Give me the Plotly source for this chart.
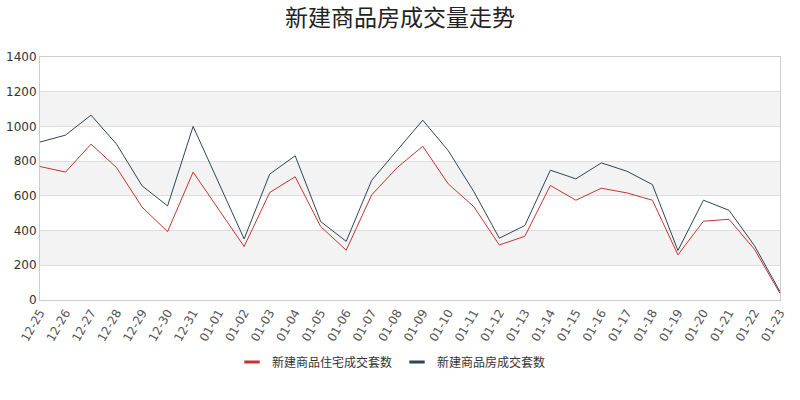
import plotly.graph_objects as go

dates = ["12-25","12-26","12-27","12-28","12-29","12-30","12-31",
         "01-01","01-02","01-03","01-04","01-05","01-06","01-07","01-08",
         "01-09","01-10","01-11","01-12","01-13","01-14","01-15","01-16",
         "01-17","01-18","01-19","01-20","01-21","01-22","01-23"]
residential = [769, 737, 898, 763, 535, 394, 737, 525, 308, 619, 710, 423, 287, 606, 763,
               886, 669, 538, 317, 367, 660, 575, 644, 617, 575, 260, 454, 465, 292, 38]
all_housing = [910, 950, 1065, 898, 658, 542, 1000, 680, 352, 725, 831, 452, 338, 690, 862,
               1036, 860, 625, 356, 429, 748, 698, 790, 742, 665, 285, 575, 517, 313, 48]
y_ticks = [0, 200, 400, 600, 800, 1000, 1200, 1400]
series_names = ["新建商品住宅成交套数", "新建商品房成交套数"]
colors = ["#c23531", "#2f4554"]
title = "新建商品房成交量走势"

fig = go.Figure()
for name, vals, c in zip(series_names, [residential, all_housing], colors):
    fig.add_trace(go.Scatter(x=dates, y=vals, mode="lines", name=name,
                             line=dict(color=c, width=1), showlegend=False))
# legend entries with short thick dash symbols
for name, c in zip(series_names, colors):
    fig.add_trace(go.Scatter(x=[None], y=[None], mode="markers", name=name,
                             marker=dict(symbol="line-ew-open", size=11, color=c,
                                         line=dict(color=c, width=3))))

# alternating background bands
shapes = []
for i in range(len(y_ticks) - 1):
    if i % 2 == 1:
        shapes.append(dict(type="rect", xref="paper", yref="y", x0=0, x1=1,
                           y0=y_ticks[i], y1=y_ticks[i + 1],
                           fillcolor="#f3f3f3", line=dict(width=0), layer="below"))

fig.update_layout(
    width=800, height=400,
    margin=dict(l=40, r=20, t=57, b=100, autoexpand=False),
    paper_bgcolor="white", plot_bgcolor="white",
    font=dict(family="Noto Sans CJK SC, DejaVu Sans, sans-serif", color="#333"),
    title=dict(text=title, x=0.5, xanchor="center", y=0.955, yanchor="middle",
               font=dict(size=23, color="#222")),
    shapes=shapes,
    showlegend=True,
    legend=dict(orientation="h", x=0.475, xanchor="center", y=-0.255, yanchor="middle",
                font=dict(size=12, color="#333"), itemwidth=30,
                tracegroupgap=0),
    xaxis=dict(type="category", range=[0, len(dates) - 1], tickangle=-60,
               showgrid=False, showline=True, linecolor="#ccc", mirror=True,
               automargin=False, ticks="",
               tickfont=dict(size=12, color="#555", family="DejaVu Sans, sans-serif")),
    yaxis=dict(range=[0, 1400], tickvals=y_ticks, showgrid=True, gridcolor="#dddddd",
               showline=True, linecolor="#ccc", mirror=True, zeroline=False,
               automargin=False, ticks="",
               tickfont=dict(size=12, color="#333", family="DejaVu Sans, sans-serif")),
)

fig.write_html("out.html", config={"displayModeBar": False},
               post_script="document.body.style.margin='0';")
